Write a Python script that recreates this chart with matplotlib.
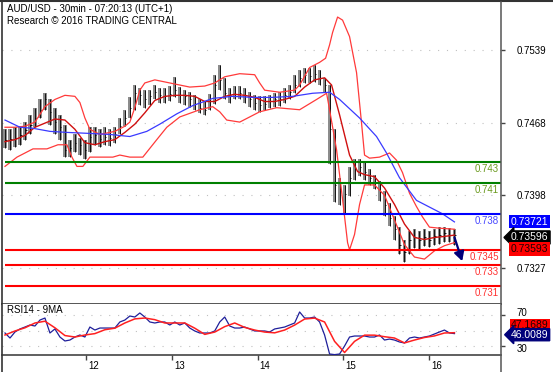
import numpy as np
import matplotlib.pyplot as plt
from matplotlib.transforms import blended_transform_factory, offset_copy
from matplotlib.lines import Line2D

plt.rcParams['font.family'] = ['Liberation Sans', 'DejaVu Sans']

# AUD/USD bars, one every 1.4 hours from day 11 ~01:00
close = [0.7452, 0.7453, 0.7454, 0.7456, 0.7461, 0.7466, 0.7473, 0.7481, 0.7491, 0.7479,
         0.7469, 0.7464, 0.7442, 0.7444, 0.7449, 0.7447, 0.7442, 0.7455, 0.7456, 0.7453,
         0.7455, 0.7454, 0.7457, 0.7465, 0.7473, 0.7483, 0.7497, 0.7495, 0.7491, 0.7494,
         0.7498, 0.7495, 0.7494, 0.7496, 0.7500, 0.7495, 0.7494, 0.7491, 0.7487, 0.7483,
         0.7481, 0.7489, 0.7505, 0.7510, 0.7497, 0.7495, 0.7496, 0.7497, 0.7495, 0.7491,
         0.7488, 0.7486, 0.7487, 0.7489, 0.7491, 0.7491, 0.7495, 0.7498, 0.7505, 0.7512,
         0.7515, 0.7514, 0.7516, 0.7512, 0.7505, 0.7462, 0.7408, 0.7404, 0.7399, 0.7415,
         0.7423, 0.7425, 0.7421, 0.7415, 0.7411, 0.7401, 0.7389, 0.7376, 0.7365, 0.7350,
         0.7343, 0.7355, 0.7357, 0.7355, 0.7357, 0.7355, 0.7358, 0.7359, 0.7361, 0.7359,
         0.73596]
high = [0.7462, 0.7462, 0.7464, 0.7465, 0.7469, 0.7476, 0.7483, 0.7491, 0.7497, 0.7491,
        0.7483, 0.7476, 0.7466, 0.7452, 0.7457, 0.7454, 0.7452, 0.7464, 0.7464, 0.7462,
        0.7464, 0.7462, 0.7464, 0.7473, 0.7481, 0.7493, 0.7505, 0.7502, 0.7500, 0.7500,
        0.7505, 0.7502, 0.7502, 0.7504, 0.7513, 0.7503, 0.7500, 0.7498, 0.7495, 0.7491,
        0.7489, 0.7496, 0.7515, 0.7524, 0.7512, 0.7502, 0.7504, 0.7504, 0.7502, 0.7498,
        0.7495, 0.7494, 0.7494, 0.7495, 0.7497, 0.7498, 0.7502, 0.7505, 0.7515, 0.7520,
        0.7522, 0.7522, 0.7524, 0.7520, 0.7512, 0.7505, 0.7462, 0.7415, 0.7408, 0.7425,
        0.7433, 0.7433, 0.7430, 0.7423, 0.7418, 0.7412, 0.7402, 0.7390, 0.7378, 0.7367,
        0.7355, 0.7363, 0.7365, 0.7363, 0.7365, 0.7363, 0.7365, 0.7367, 0.7367, 0.7366,
        0.7365]
low = [0.7444, 0.7442, 0.7445, 0.7447, 0.7452, 0.7457, 0.7464, 0.7473, 0.7481, 0.7466,
       0.7457, 0.7452, 0.7435, 0.7435, 0.7440, 0.7437, 0.7433, 0.7440, 0.7447, 0.7445,
       0.7447, 0.7446, 0.7449, 0.7457, 0.7465, 0.7473, 0.7481, 0.7486, 0.7483, 0.7486,
       0.7491, 0.7488, 0.7488, 0.7489, 0.7493, 0.7488, 0.7486, 0.7484, 0.7481, 0.7478,
       0.7476, 0.7481, 0.7487, 0.7500, 0.7491, 0.7488, 0.7491, 0.7491, 0.7488, 0.7484,
       0.7481, 0.7479, 0.7481, 0.7483, 0.7484, 0.7485, 0.7488, 0.7491, 0.7497, 0.7503,
       0.7507, 0.7507, 0.7508, 0.7505, 0.7498, 0.7428, 0.7391, 0.7389, 0.7381, 0.7397,
       0.7413, 0.7417, 0.7413, 0.7408, 0.7404, 0.7392, 0.7378, 0.7368, 0.7355, 0.7341,
       0.7333, 0.7341, 0.7347, 0.7345, 0.7349, 0.7348, 0.7350, 0.7351, 0.7353, 0.7353,
       0.7350]

# bollinger bands / moving averages, positions given as bar numbers
upper_at = [0, 2, 4, 6, 8, 10, 12, 14, 15, 16, 17, 19, 22, 24, 25, 26, 27, 28, 30, 33,
            37, 40, 42, 44, 47, 50, 51, 52, 55, 58, 59, 61, 63, 64.2, 65, 65.6, 66.6, 67.6,
            69, 70.4, 71.4, 72, 73, 75, 77, 78.4, 79.6, 81, 82.4, 83.6, 85, 87, 90]
upper = [0.7464, 0.7464, 0.7465, 0.7469, 0.7484, 0.7491, 0.7495, 0.7494, 0.7488, 0.7473,
         0.7462, 0.7457, 0.7460, 0.7465, 0.7469, 0.7483, 0.7500, 0.7507, 0.7510, 0.7507,
         0.7503, 0.7504, 0.7507, 0.7513, 0.7516, 0.7515, 0.7507, 0.7500, 0.7498, 0.7500,
         0.7505, 0.7522, 0.7527, 0.7531, 0.7544, 0.7556, 0.7571, 0.7568, 0.7552, 0.7517,
         0.7468, 0.7437, 0.7434, 0.7435, 0.7439, 0.7432, 0.7420, 0.7400, 0.7387, 0.7377,
         0.7367, 0.7366, 0.7365]
lower_at = [0, 2.4, 5.6, 8.4, 10.6, 12.4, 13.4, 14.4, 15.6, 17, 19, 21.6, 23, 25, 27.6,
            30.4, 32.4, 35, 39, 41.6, 43, 44.4, 47, 51, 54.4, 59, 62.4, 64.4, 65, 66.4,
            67.6, 68.6, 69, 70, 71, 72, 74, 76, 78, 80, 82, 84, 86, 88, 90]
lower = [0.7426, 0.7435, 0.7443, 0.7443, 0.7447, 0.7447, 0.7435, 0.7426, 0.7426, 0.7435,
         0.7435, 0.7435, 0.7437, 0.7435, 0.7435, 0.7452, 0.7464, 0.7474, 0.7481, 0.7484,
         0.7479, 0.7471, 0.7469, 0.7479, 0.7483, 0.7481, 0.7491, 0.7497, 0.7481, 0.7442,
         0.7394, 0.7352, 0.7345, 0.7360, 0.7389, 0.7408, 0.7408, 0.7398, 0.7374, 0.7350,
         0.7338, 0.7336, 0.7344, 0.7349, 0.7352]
mid_at = [0, 2, 4, 6, 8, 10, 12, 14, 16, 18, 20, 22, 24, 26, 28, 30, 32, 34, 36, 38,
          40, 42, 44, 46, 48, 50, 52, 54, 56, 58, 60, 62, 64, 65.4, 67, 69, 70.6, 72, 74,
          76, 78, 80, 82, 84, 86, 88, 90]
mid = [0.7450, 0.7452, 0.7456, 0.7464, 0.7468, 0.7472, 0.7471, 0.7462, 0.7449, 0.7447,
       0.7450, 0.7452, 0.7459, 0.7467, 0.7478, 0.7490, 0.7494, 0.7495, 0.7495, 0.7494,
       0.7489, 0.7489, 0.7494, 0.7496, 0.7495, 0.7493, 0.7489, 0.7489, 0.7491, 0.7494,
       0.7503, 0.7510, 0.7512, 0.7505, 0.7476, 0.7437, 0.7421, 0.7418, 0.7416, 0.7405,
       0.7389, 0.7370, 0.7357, 0.7355, 0.7357, 0.7358, 0.73593]
ma_at = [0, 3, 5.6, 9, 12.4, 17, 21, 25, 28.4, 31, 34.4, 37.6, 41.6, 45.6, 49.6, 53.6,
         57.6, 61.6, 65, 67, 71, 74.4, 76.4, 79, 82.4, 85.6, 87.6, 90]
ma = [0.7471, 0.7464, 0.7463, 0.7460, 0.7459, 0.7458, 0.7457, 0.7455, 0.7460, 0.7467,
      0.7477, 0.7485, 0.7492, 0.7494, 0.7493, 0.7493, 0.7494, 0.7497, 0.7498, 0.7491,
      0.7473, 0.7455, 0.7439, 0.7415, 0.7393, 0.7385, 0.7380, 0.73721]

# support / resistance levels
levels = [0.743, 0.741, 0.738, 0.7345, 0.733, 0.731]
level_text = ['0.743', '0.741', '0.738', '0.7345', '0.733', '0.731']
level_color = ['#008000', '#008000', '#0000ff', '#ff0000', '#ff0000', '#ff0000']
level_text_color = ['#6b9a1f', '#6b9a1f', '#4646ff', '#ff3030', '#ff3030', '#ff3030']

price_ticks = [0.7327, 0.7398, 0.7468, 0.7539]
forecast_t = [16.30, 16.39]
forecast_p = [0.7357, 0.7334]

# RSI14 (one per bar) and its 9MA (every second bar)
rsi = [46.8, 40.3, 48.1, 52.0, 54.5, 57.1, 55.8, 63.5, 66.1, 46.8,
       52.0, 41.6, 36.5, 37.7, 41.6, 44.2, 41.6, 54.5, 50.6, 53.2,
       53.2, 53.2, 53.2, 61.0, 63.5, 68.7, 67.4, 72.6, 67.4, 61.0,
       59.7, 61.0, 61.0, 57.1, 61.0, 57.1, 59.7, 53.2, 49.4, 46.8,
       46.8, 46.8, 49.4, 61.0, 67.4, 55.8, 53.2, 53.2, 54.5, 52.0,
       49.4, 49.4, 49.4, 48.1, 52.0, 53.2, 54.5, 57.1, 59.7, 73.9,
       66.1, 66.1, 67.4, 61.0, 44.2, 19.7, 18.9, 19.7, 30.0, 41.6,
       42.9, 42.9, 42.9, 41.6, 41.6, 44.2, 37.7, 39.0, 37.7, 35.2,
       33.9, 40.3, 41.6, 40.3, 41.6, 42.9, 45.5, 48.1, 50.6, 46.8,
       46.0089]
rsi_ma = [44.2, 49.4, 53.5, 59.7, 62.0, 53.5, 43.5, 41.6, 44.2, 46.0,
          51.0, 53.0, 59.7, 65.0, 66.1, 64.0, 59.7, 59.7, 59.7, 53.0,
          45.0, 48.0, 55.0, 59.7, 54.0, 50.6, 48.0, 47.0, 50.6, 57.0,
          64.8, 66.0, 61.0, 36.0, 21.6, 36.0, 44.0, 44.0, 42.0, 40.3,
          34.0, 37.7, 41.0, 43.0, 46.8, 47.1689]

days = [12, 13, 14, 15, 16]
T0 = 11.049
STEP = 1.4 / 24

W, H = 553, 372
fig = plt.figure(figsize=(W / 100, H / 100), dpi=100)


def rect(l, t, r, b):
    return [l / W, 1 - b / H, (r - l) / W, (b - t) / H]


ax = fig.add_axes(rect(2, 2, 501, 304))
rx = fig.add_axes(rect(2, 304, 501, 355), sharex=ax)

t = T0 + np.arange(len(close)) * STEP


def pos(at):
    return T0 + np.asarray(at) * STEP


low_a = np.array(low)
high_a = np.array(high)

# grey bar over the whole range with a black stroke through it
ax.bar(t, high_a - low_a, bottom=low_a, width=0.038, color='#8c8c8c', zorder=2)
ax.vlines(t, low_a, high_a, color='black', lw=0.6, zorder=3)
ax.hlines(close, t, t + 0.018, color='black', lw=0.6, zorder=3)

ax.plot(pos(upper_at), upper, color='#ff3a3a', lw=0.9, zorder=4)
ax.plot(pos(lower_at), lower, color='#ff3a3a', lw=0.9, zorder=4)
ax.plot(pos(mid_at), mid, color='#d01010', lw=1.0, zorder=4)
ax.plot(pos(ma_at), ma, color='#3a3aff', lw=0.9, zorder=4)

ax.set_xlim(11.014, 16.843)
ax.set_ylim(0.72924, 0.75856)

yb = blended_transform_factory(ax.transAxes, ax.transData)
for lv, txt, c, tc in zip(levels, level_text, level_color, level_text_color):
    ax.hlines(lv, t[0], 16.843, color=c, lw=1.5, zorder=5)
    ax.annotate(txt, xy=(0.996, lv), xycoords=yb, xytext=(0, -1.5), textcoords='offset points',
                ha='right', va='top', color=tc, fontsize=7)

ax.annotate('', xy=(forecast_t[1], forecast_p[1]), xytext=(forecast_t[0], forecast_p[0]),
            arrowprops=dict(arrowstyle='-|>,head_length=0.55,head_width=0.3', color='#00007a',
                            lw=1.6, shrinkA=0, shrinkB=0), zorder=6)

for p in price_ticks:
    ax.axhline(p, color='#c0c0c0', lw=0.8, ls=(0, (1, 7)), zorder=1)

ax.set_yticks(price_ticks)
ax.set_yticklabels(['%.4f' % p for p in price_ticks])
ax.tick_params(axis='y', left=False, labelleft=False, right=True, labelright=True,
               length=3, width=1, color='#444444', labelsize=7, pad=8)
ax.tick_params(axis='x', bottom=False, labelbottom=False)
for s in ['left', 'top', 'right']:
    ax.spines[s].set_visible(False)
ax.spines['bottom'].set_color('#555555')
ax.spines['bottom'].set_linewidth(1.4)

# right-hand value boxes
fb = blended_transform_factory(fig.transFigure, ax.transData)
ax.annotate('%.5f' % ma[-1], xy=(511 / W, ma[-1]), xycoords=fb, ha='left', va='center',
            fontsize=7.5, color='white', annotation_clip=False,
            bbox=dict(boxstyle='square,pad=0.15', fc='#0000ff', ec='none'))
ax.annotate('%.5f' % close[-1], xy=(511 / W, ma[-1]), xycoords=fb, xytext=(0, -11.2),
            textcoords='offset points', ha='left', va='center', fontsize=7.5, color='white',
            annotation_clip=False,
            bbox=dict(boxstyle='larrow,pad=0.15', fc='black', ec='black'))
ax.annotate('%.5f' % mid[-1], xy=(511 / W, ma[-1]), xycoords=fb, xytext=(0, -19.5),
            textcoords='offset points', ha='left', va='center', fontsize=7.5, color='#200000',
            annotation_clip=False,
            bbox=dict(boxstyle='square,pad=0.15', fc='#ff0000', ec='none'))

# RSI panel
for lv in [70, 50, 30]:
    rx.axhline(lv, color='#c0c0c0', lw=0.8, ls=(0, (1, 7)), zorder=1)
rx.plot(t, rsi, color='#1f1f9a', lw=0.9, zorder=3)
rx.plot(t[::2], rsi_ma, color='#ff2020', lw=1.1, zorder=4)
rx.set_ylim(18.4, 84.2)
rx.set_yticks([30, 70])
rx.tick_params(axis='y', left=False, labelleft=False, right=True, labelright=True,
               length=3, width=1, color='#444444', labelsize=7, pad=8)
lab30, lab70 = rx.get_yticklabels()
lab70.set_transform(offset_copy(lab70.get_transform(), fig=fig, x=0, y=3, units='dots'))
lab30.set_transform(offset_copy(lab30.get_transform(), fig=fig, x=0, y=-1.5, units='dots'))
rx.set_xticks(days)
rx.set_xticklabels([str(d) for d in days])
rx.tick_params(axis='x', direction='out', length=3.5, width=1, color='#444444',
               labelsize=7, pad=0.5)
for lab in rx.get_xticklabels():
    lab.set_horizontalalignment('left')
    lab.set_transform(offset_copy(lab.get_transform(), fig=fig, x=2, y=0, units='dots'))
for s in ['left', 'top', 'right']:
    rx.spines[s].set_visible(False)
rx.spines['bottom'].set_color('#444444')
rx.spines['bottom'].set_linewidth(1.2)
rx.text(5 / 499, 0.88, 'RSI14 - 9MA', transform=rx.transAxes, fontsize=7, va='center')

rb = blended_transform_factory(fig.transFigure, rx.transData)
rx.annotate('%.4f' % rsi_ma[-1], xy=(511 / W, rsi_ma[-1]), xycoords=rb, xytext=(0, 5.5),
            textcoords='offset points', ha='left', va='center', fontsize=7.5, color='#200000',
            annotation_clip=False,
            bbox=dict(boxstyle='square,pad=0.1', fc='#ff0000', ec='none'))
rx.annotate('%.4f' % rsi[-1], xy=(511 / W, rsi[-1]), xycoords=rb, xytext=(0, -0.8),
            textcoords='offset points', ha='left', va='center', fontsize=7.5, color='white',
            annotation_clip=False,
            bbox=dict(boxstyle='larrow,pad=0.1', fc='#00007a', ec='#00007a'))

# outer frame and right axis line
fig.add_artist(Line2D([1.5 / W, 1.5 / W], [0, 1], color='#333333', lw=1.2))
fig.add_artist(Line2D([0, 1], [1 - 1 / H, 1 - 1 / H], color='#333333', lw=1.5))
fig.add_artist(Line2D([501 / W, 501 / W], [0, 1 - 2 / H], color='#555555', lw=1.1))

fig.text(7 / W, 1 - 9.5 / H, 'AUD/USD - 30min - 07:20:13 (UTC+1)', fontsize=7, va='center')
fig.text(7 / W, 1 - 21 / H, 'Research \u00a9 2016 TRADING CENTRAL', fontsize=7, va='center')

fig.savefig('out.png', dpi=100)
